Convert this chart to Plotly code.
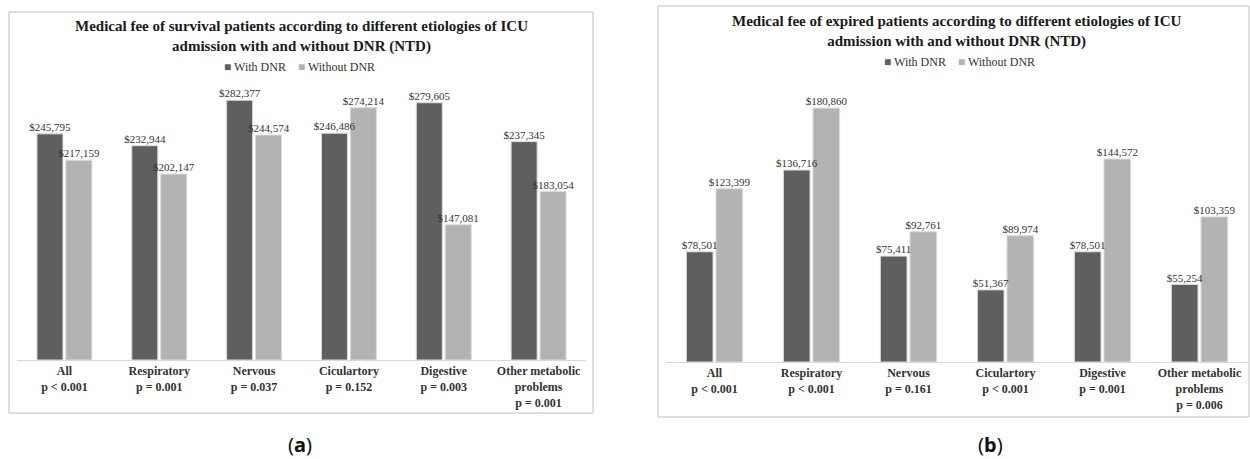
import plotly.graph_objects as go

W, H = 1250, 459

categories = ["All", "Respiratory", "Nervous", "Ciculartory", "Digestive", "Other metabolic problems"]
tick_labels_survival = [
    "All<br>p &lt; 0.001",
    "Respiratory<br>p = 0.001",
    "Nervous<br>p = 0.037",
    "Ciculartory<br>p = 0.152",
    "Digestive<br>p = 0.003",
    "Other metabolic<br>problems<br>p = 0.001",
]
tick_labels_expired = [
    "All<br>p &lt; 0.001",
    "Respiratory<br>p &lt; 0.001",
    "Nervous<br>p = 0.161",
    "Ciculartory<br>p &lt; 0.001",
    "Digestive<br>p = 0.001",
    "Other metabolic<br>problems<br>p = 0.006",
]

survival_with_dnr = [245795, 232944, 282377, 246486, 279605, 237345]
survival_without_dnr = [217159, 202147, 244574, 274214, 147081, 183054]
expired_with_dnr = [78501, 136716, 75411, 51367, 78501, 55254]
expired_without_dnr = [123399, 180860, 92761, 89974, 144572, 103359]

series_names = ["With DNR", "Without DNR"]
DARK = "#5f5f5f"
LIGHT = "#b3b3b3"
SERIF = "Liberation Serif, Times New Roman, serif"
GAP = 0.39


def px_x(p):
    return p / W


def px_y(p):
    return 1 - p / H


def money(v):
    return f"${v:,}"


fig = go.Figure()

panels = [
    ("x", "y", survival_with_dnr, survival_without_dnr),
    ("x2", "y2", expired_with_dnr, expired_without_dnr),
]
series = lambda a, b: [(series_names[0], a, DARK, "g1"), (series_names[1], b, LIGHT, "g2")]

# bars first
for xa, ya, with_vals, without_vals in panels:
    for name, vals, color, grp in series(with_vals, without_vals):
        fig.add_trace(go.Bar(
            x=categories, y=vals, name=name, xaxis=xa, yaxis=ya,
            offsetgroup=grp,
            marker=dict(color=color, line=dict(color="#dcdcdc", width=1)),
            showlegend=False, hoverinfo="skip",
        ))

# value labels on top of every bar, drawn after all bars
for xa, ya, with_vals, without_vals in panels:
    for name, vals, color, grp in series(with_vals, without_vals):
        fig.add_trace(go.Scatter(
            x=categories, y=vals, name=name, xaxis=xa, yaxis=ya,
            offsetgroup=grp, mode="text",
            text=[money(v) for v in vals], textposition="top center",
            textfont=dict(family=SERIF, size=11, color="#333333"),
            cliponaxis=False, showlegend=False,
        ))

xaxis_common = dict(
    type="category", showgrid=False, zeroline=False, showline=True,
    linecolor="#d9d9d9", linewidth=1, ticks="", fixedrange=True,
    tickfont=dict(family=SERIF, size=12, color="#333333"),
    tickvals=categories,
)
yaxis_common = dict(visible=False, showgrid=False, zeroline=False, fixedrange=True)

fig.update_layout(
    width=W, height=H,
    margin=dict(l=0, r=0, t=0, b=0),
    paper_bgcolor="white", plot_bgcolor="white",
    barmode="group", bargap=GAP, bargroupgap=0.1,
    scattermode="group", scattergap=GAP,
    xaxis=dict(**xaxis_common, domain=[px_x(17), px_x(586)], anchor="y",
               ticktext=[f"<b>{t}</b>" for t in tick_labels_survival]),
    yaxis=dict(**yaxis_common, domain=[px_y(360), px_y(84)], range=[0, 300000], anchor="x"),
    xaxis2=dict(**xaxis_common, domain=[px_x(666), px_x(1248)], anchor="y2",
                ticktext=[f"<b>{t}</b>" for t in tick_labels_expired]),
    yaxis2=dict(**yaxis_common, domain=[px_y(362), px_y(81.2)], range=[0, 200000], anchor="x2"),
    showlegend=False,
)

# panel frames
for x0, y0, x1, y1 in [(9, 12, 593, 413), (658, 6, 1249, 417)]:
    fig.add_shape(type="rect", xref="paper", yref="paper",
                  x0=px_x(x0), x1=px_x(x1), y0=px_y(y1), y1=px_y(y0),
                  line=dict(color="#bfbfbf", width=1), fillcolor="rgba(0,0,0,0)", layer="below")

titles = [
    ("Medical fee of survival patients according to different etiologies of ICU<br>"
     "admission with and without DNR (NTD)", 301, 36.5),
    ("Medical fee of expired patients according to different etiologies of ICU<br>"
     "admission with and without DNR (NTD)", 957, 31),
]
for text, cx, cy in titles:
    fig.add_annotation(text=f"<b>{text}</b>", xref="paper", yref="paper",
                       x=px_x(cx), y=px_y(cy), xanchor="center", yanchor="middle",
                       showarrow=False, align="center",
                       font=dict(family=SERIF, size=15, color="#1a1a1a"))

# legends
legend_text = (f"<span style='color:{DARK}'>■</span> {series_names[0]}"
               f"&nbsp;&nbsp;&nbsp;&nbsp;<span style='color:{LIGHT}'>■</span> {series_names[1]}")
for cx, cy in [(299, 67), (959, 62)]:
    fig.add_annotation(text=legend_text, xref="paper", yref="paper",
                       x=px_x(cx), y=px_y(cy), xanchor="center", yanchor="middle",
                       showarrow=False, font=dict(family=SERIF, size=12, color="#333333"))

# panel letters
for letter, cx in [("a", 300), ("b", 990)]:
    fig.add_annotation(text=f"(<b>{letter}</b>)", xref="paper", yref="paper",
                       x=px_x(cx), y=px_y(444), xanchor="center", yanchor="middle",
                       showarrow=False, font=dict(family="Noto Sans", size=20, color="#111111"))

fig.write_html("out.html")
